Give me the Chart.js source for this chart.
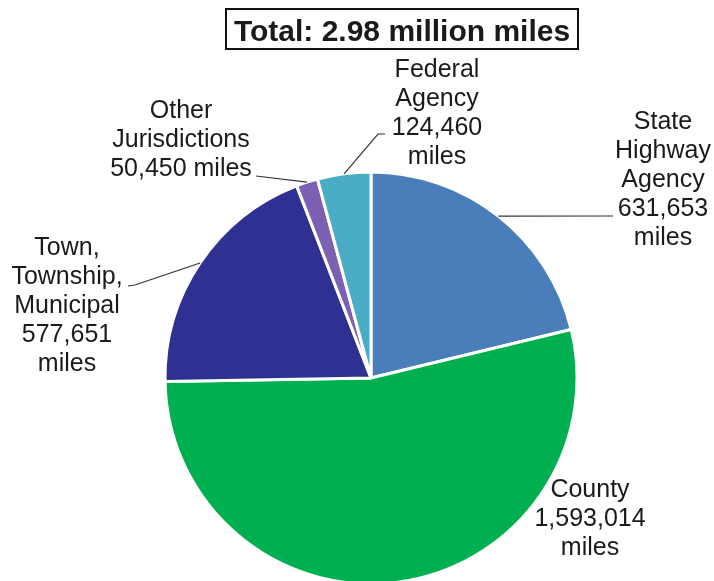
<!DOCTYPE html>
<html>
<head>
<meta charset="utf-8">
<script src="https://cdn.jsdelivr.net/npm/chart.js@4/dist/chart.umd.min.js"></script>
<style>
  html, body { margin: 0; padding: 0; background: #fff; overflow: hidden; }
  #wrap { position: relative; width: 714px; height: 581px; }
</style>
</head>
<body>
<div id="wrap"><canvas id="pie" width="714" height="581"></canvas></div>
<script>
// data, clockwise from 12 o'clock
const categories = ['State Highway Agency', 'County', 'Town, Township, Municipal', 'Other Jurisdictions', 'Federal Agency'];
const miles = [631653, 1593014, 577651, 50450, 124460];
const nameLines = [
  ['State', 'Highway', 'Agency'],
  ['County'],
  ['Town,', 'Township,', 'Municipal'],
  ['Other', 'Jurisdictions'],
  ['Federal', 'Agency']
];
const titleText = 'Total: 2.98 million miles';

const COLORS = ['#4a7ebb', '#00b050', '#2e3192', '#7b60b4', '#4bacc6'];
const FONT = "'Liberation Sans', Arial, sans-serif";
const INK = '#1a1a1a';

/* label placement: centre x, first baseline, leader bend/end points */
const labelLayout = [
  { cx: 663, y: 129, join: false, leader: [[613, 216]] },
  { cx: 590, y: 497, join: false, leader: null },
  { cx: 67,  y: 255, join: false, leader: [[135, 285], [128, 286]] },
  { cx: 181, y: 118, join: true,  leader: [[256, 176]] },
  { cx: 437, y: 77,  join: false, leader: [[378, 134], [385, 134]] }
];
const LINE_H = 29;

const pieLabels = {
  id: 'pieLabels',
  afterDatasetsDraw(chart) {
    const ctx = chart.ctx;
    const arcs = chart.getDatasetMeta(0).data;
    ctx.save();

    // leader lines from the slice's outer edge at mid-angle
    ctx.strokeStyle = '#333333';
    ctx.lineWidth = 1.2;
    arcs.forEach((arc, i) => {
      const lay = labelLayout[i];
      if (!lay.leader) return;
      const mid = (arc.startAngle + arc.endAngle) / 2;
      ctx.beginPath();
      ctx.moveTo(arc.x + Math.cos(mid) * arc.outerRadius, arc.y + Math.sin(mid) * arc.outerRadius);
      lay.leader.forEach(p => ctx.lineTo(p[0], p[1]));
      ctx.stroke();
    });

    // label text
    ctx.fillStyle = INK;
    ctx.font = '25px ' + FONT;
    ctx.textAlign = 'center';
    ctx.textBaseline = 'alphabetic';
    categories.forEach((c, i) => {
      const lay = labelLayout[i];
      const val = miles[i].toLocaleString('en-US');
      const lines = lay.join
        ? [...nameLines[i], val + ' miles']
        : [...nameLines[i], val, 'miles'];
      lines.forEach((t, k) => ctx.fillText(t, lay.cx, lay.y + k * LINE_H));
    });

    // boxed total
    ctx.font = 'bold 30px ' + FONT;
    ctx.fillText(titleText, 402, 41);
    ctx.strokeStyle = '#111';
    ctx.lineWidth = 2;
    ctx.strokeRect(226, 9, 352, 40);
    ctx.restore();
  }
};

new Chart(document.getElementById('pie'), {
  type: 'pie',
  data: {
    labels: categories,
    datasets: [{
      data: miles,
      backgroundColor: COLORS,
      borderColor: '#ffffff',
      borderWidth: 3
    }]
  },
  options: {
    responsive: false,
    animation: false,
    devicePixelRatio: 1,
    radius: 206,
    layout: { padding: { left: 165, right: 137, top: 175, bottom: 0 } },
    plugins: {
      legend: { display: false },
      tooltip: { enabled: false }
    }
  },
  plugins: [pieLabels]
});
</script>
</body>
</html>
